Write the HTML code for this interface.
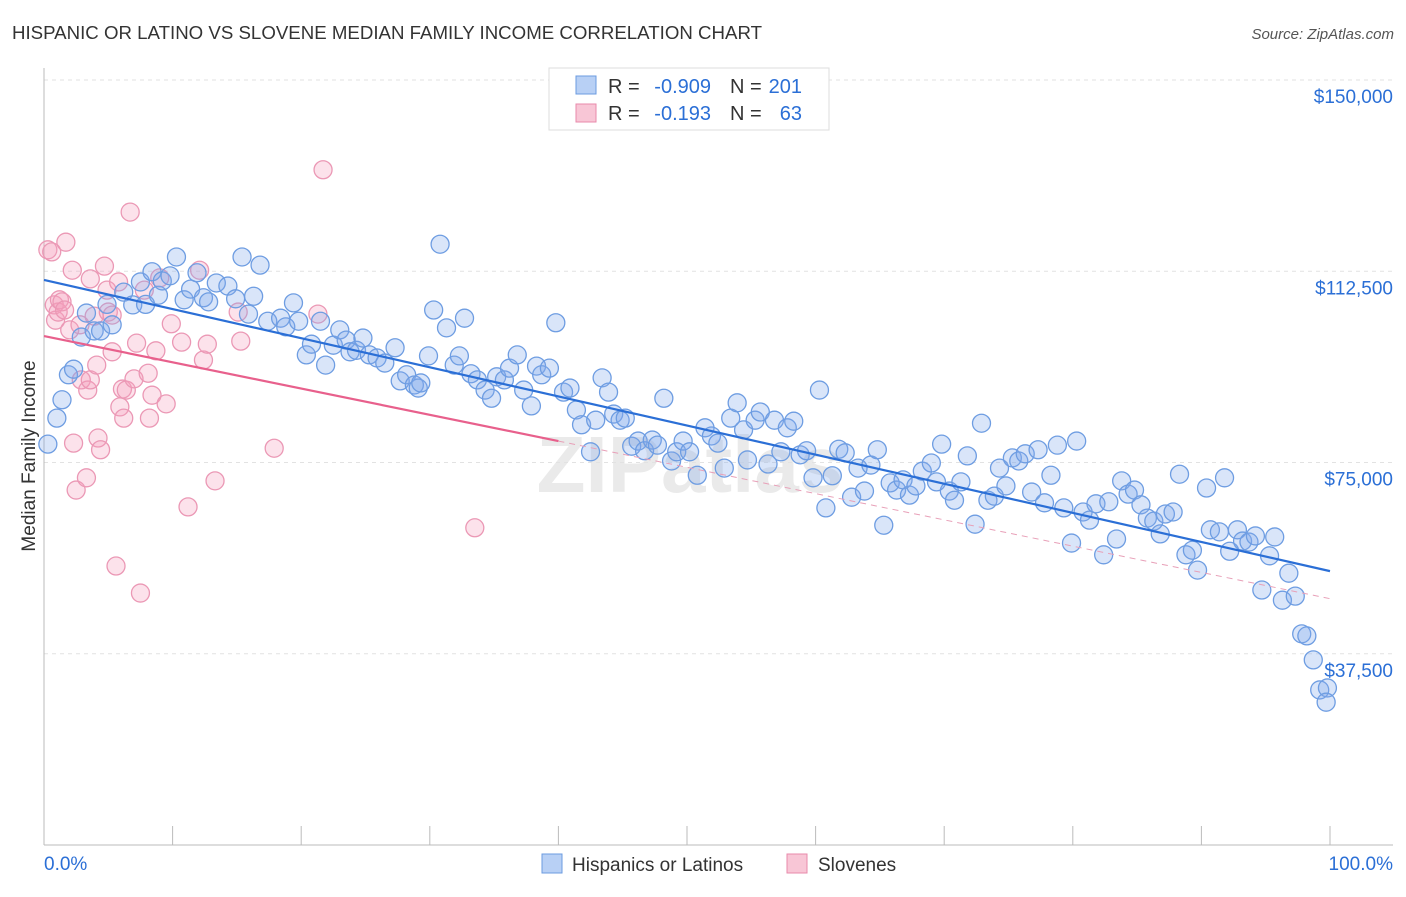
<!DOCTYPE html>
<html><head><meta charset="utf-8"><style>
body{margin:0;background:#fff;font-family:"Liberation Sans",sans-serif}
svg text{font-family:"Liberation Sans",sans-serif}
</style></head><body>
<svg id="chart" width="1406" height="892" xmlns="http://www.w3.org/2000/svg">
<text x="12" y="39" font-size="18" fill="#333" textLength="750" lengthAdjust="spacingAndGlyphs">HISPANIC OR LATINO VS SLOVENE MEDIAN FAMILY INCOME CORRELATION CHART</text>
<text x="1394" y="39" font-size="15" fill="#555" text-anchor="end" font-style="italic">Source: ZipAtlas.com</text>
<text x="35" y="456" font-size="19" fill="#333" text-anchor="middle" transform="rotate(-90 35 456)">Median Family Income</text>
<text x="690" y="492" font-size="80" font-weight="bold" fill="#ddd" text-anchor="middle" opacity="0.6" font-family="Liberation Serif">ZIPatlas</text>
<g id="grid"></g><g id="marks"></g>
<g>
<rect x="549" y="68" width="280" height="62" fill="#fff" stroke="#ddd"/>
<rect x="576" y="76" width="20" height="18" fill="#b8d0f5" stroke="#6b9be0"/>
<rect x="576" y="104" width="20" height="18" fill="#f8c6d6" stroke="#e88aab"/>
<text x="608" y="93" font-size="20" fill="#333">R =</text>
<text x="711" y="93" font-size="20" fill="#2b6fd6" text-anchor="end">-0.909</text>
<text x="730" y="93" font-size="20" fill="#333">N =</text>
<text x="802" y="93" font-size="20" fill="#2b6fd6" text-anchor="end">201</text>
<text x="608" y="120" font-size="20" fill="#333">R =</text>
<text x="711" y="120" font-size="20" fill="#2b6fd6" text-anchor="end">-0.193</text>
<text x="730" y="120" font-size="20" fill="#333">N =</text>
<text x="802" y="120" font-size="20" fill="#2b6fd6" text-anchor="end">63</text>
</g>
<g>
<rect x="542" y="854" width="20" height="19" fill="#b8d0f5" stroke="#6b9be0"/>
<text x="572" y="871" font-size="19" fill="#333">Hispanics or Latinos</text>
<rect x="787" y="854" width="20" height="19" fill="#f8c6d6" stroke="#e88aab"/>
<text x="818" y="871" font-size="19" fill="#333">Slovenes</text>
</g>
</svg>
<script>
const yTicks=[37500,75000,112500,150000];
const yTickLabels=["$37,500","$75,000","$112,500","$150,000"];
const xTickLabels=["0.0%","100.0%"];
const blueX=[0.3,1,1.4,1.9,2.3,2.9,3.3,3.9,4.4,4.9,5.3,6.2,6.9,7.5,7.9,8.4,8.9,9.2,9.8,10.3,10.9,11.4,11.9,12.4,12.8,13.4,14.3,14.9,15.4,15.9,16.3,16.8,17.4,18.4,18.8,19.4,19.8,20.4,20.8,21.5,21.9,22.5,23,23.5,23.8,24.3,24.8,25.3,25.9,26.5,27.3,27.7,28.2,28.8,29.1,29.3,29.9,30.3,30.8,31.3,31.9,32.3,32.7,33.2,33.7,34.3,34.8,35.2,35.8,36.2,36.8,37.3,37.9,38.3,38.7,39.3,39.8,40.4,40.9,41.4,41.8,42.5,42.9,43.4,43.9,44.3,44.8,45.2,45.7,46.2,46.7,47.3,47.7,48.2,48.8,49.2,49.7,50.2,50.8,51.4,51.9,52.4,52.9,53.4,53.9,54.4,54.7,55.3,55.7,56.3,56.8,57.3,57.8,58.3,58.8,59.3,59.8,60.3,60.8,61.3,61.8,62.3,62.8,63.3,63.8,64.3,64.8,65.3,65.8,66.3,66.8,67.3,67.8,68.3,69,69.4,69.8,70.4,70.8,71.3,71.8,72.4,72.9,73.4,73.9,74.3,74.8,75.3,75.8,76.3,76.8,77.3,77.8,78.3,78.8,79.3,79.9,80.3,80.8,81.3,81.8,82.4,82.8,83.4,83.8,84.3,84.8,85.3,85.8,86.3,86.8,87.2,87.8,88.3,88.8,89.3,89.7,90.4,90.7,91.4,91.8,92.2,92.8,93.2,93.7,94.2,94.7,95.3,95.7,96.3,96.8,97.3,97.8,98.2,98.7,99.2,99.8,99.7];
const blueY=[78.6,83.7,87.3,92.2,93.3,99.6,104.3,100.8,100.8,106,102,108.4,105.9,110.4,106,112.4,107.8,110.6,111.6,115.3,106.9,109,112.2,107.3,106.5,110.2,109.6,107.1,115.3,104.1,107.6,113.7,102.7,103.3,101.6,106.3,102.7,96.1,98.2,102.7,94.1,98,101,99,96.7,97,99.4,96.1,95.5,94.5,97.5,91,92.2,90.2,89.6,90.6,95.9,104.9,117.8,101.4,94.1,95.9,103.3,92.4,91.2,89.2,87.6,91.8,91.2,93.5,96.1,89.2,86.1,93.9,92.2,93.5,102.4,88.8,89.6,85.3,82.4,77.1,83.3,91.6,88.8,84.5,83.3,83.7,78.2,79.2,77.3,79.4,78.4,87.6,75.3,77.1,79.2,77.1,72.5,81.8,80.2,78.8,73.9,83.7,86.7,81.4,75.5,83.3,84.9,74.7,83.3,77.1,81.8,83.1,76.5,77.3,72,89.2,66.1,72.4,77.6,76.9,68.2,73.9,69.4,74.5,77.5,62.7,71,69.6,71.6,68.6,70.4,73.3,74.9,71.2,78.6,69.4,67.6,71.2,76.3,62.9,82.7,67.6,68.4,73.9,70.4,75.9,75.3,76.7,69.2,77.5,67.1,72.5,78.4,66.1,59.2,79.2,65.3,63.7,66.9,56.9,67.3,60,71.4,68.8,69.6,66.7,64.1,63.5,61,64.9,65.3,72.7,56.9,57.8,53.9,70,61.8,61.4,72,57.6,61.8,59.6,59.4,60.6,50,56.7,60.4,48,53.3,48.8,41.4,41,36.3,30.4,30.8,28];
const pinkX=[0.3,0.6,0.8,0.9,1.1,1.2,1.4,1.6,1.7,2,2.2,2.3,2.5,2.8,2.9,3.3,3.4,3.6,3.6,3.9,4.1,4.2,4.4,4.7,4.9,5,5.3,5.3,5.6,5.8,5.9,6.1,6.2,6.4,6.7,7,7.2,7.5,7.8,8.1,8.2,8.4,8.7,9,9.5,9.9,10.7,11.2,12.1,12.4,12.7,13.3,15.1,15.3,17.9,21.3,21.7,33.5];
const pinkY=[116.7,116.3,105.9,102.9,104.5,106.9,106.5,104.9,118.2,101,112.7,78.8,69.6,102,91.2,72,89.2,91.2,111,103.7,94.1,79.8,77.5,113.5,108.8,104.5,96.7,103.9,54.7,110.4,85.9,89.4,83.7,89.2,124.1,91.4,98.4,49.4,108.8,92.5,83.7,88.2,96.9,111.2,86.5,102.2,98.6,66.3,112.7,95.1,98.2,71.4,104.5,98.8,77.8,104.1,132.4,62.2];
const blueTrend=[110.8,53.7];
const pinkTrend=[99.8,48.3];
const pinkSolidEnd=40;
const NS="http://www.w3.org/2000/svg";
const sx=v=>44+v*12.86;
const sy=v=>845-v*5.1;
const grid=document.getElementById('grid'),marks=document.getElementById('marks');
function mk(t,a,p){const e=document.createElementNS(NS,t);for(const k in a)e.setAttribute(k,a[k]);(p||grid).appendChild(e);return e;}
yTicks.forEach((t,i)=>{
 const y=sy(t/1000);
 const l=mk('line',{x1:44,x2:1393,y1:y,y2:y,stroke:'#e2e2e2','stroke-dasharray':'4,4'});
 
 
 const tx=mk('text',{x:1393,y:y+23,'font-size':19,fill:'#2b6fd6','text-anchor':'end'});
 tx.textContent=yTickLabels[i];
 
 
});
const ax=mk('line',{x1:44,x2:44,y1:68,y2:845,stroke:'#bbb'});


const bx=mk('line',{x1:44,x2:1393,y1:845,y2:845,stroke:'#bbb'});


for(let i=0;i<=10;i++){const t=mk('line',{x1:sx(i*10),x2:sx(i*10),y1:826,y2:845,stroke:'#bbb'});
 
 }
[[xTickLabels[0],44,'start'],[xTickLabels[1],1393,'end']].forEach(d=>{const t=mk('text',{x:d[1],y:870,'font-size':19,fill:'#2b6fd6','text-anchor':d[2]});t.textContent=d[0];
 
 });
function pts(X,Y,fill,stroke,name){X.forEach((x,i)=>{const c=mk('circle',{cx:sx(x),cy:sy(Y[i]),r:9,fill:fill,stroke:stroke,'stroke-width':1.3},marks);
 
 });}
pts(pinkX,pinkY,'rgba(244,160,190,0.3)','#eb98b5','slovene-point');
pts(blueX,blueY,'rgba(130,170,235,0.3)','#6e9de2','hispanic-point');
const bl=mk('line',{x1:sx(0),y1:sy(blueTrend[0]),x2:sx(100),y2:sy(blueTrend[1]),stroke:'#2b6fd6','stroke-width':2.2},marks);


const pv=x=>pinkTrend[0]+(pinkTrend[1]-pinkTrend[0])*x/100;
const pl=mk('line',{x1:sx(0),y1:sy(pv(0)),x2:sx(pinkSolidEnd),y2:sy(pv(pinkSolidEnd)),stroke:'#e8608c','stroke-width':2.2},marks);


const pd=mk('line',{x1:sx(pinkSolidEnd),y1:sy(pv(pinkSolidEnd)),x2:sx(100),y2:sy(pv(100)),stroke:'#e8a0b8','stroke-width':1,'stroke-dasharray':'6,5'},marks);


</script>
</body></html>
